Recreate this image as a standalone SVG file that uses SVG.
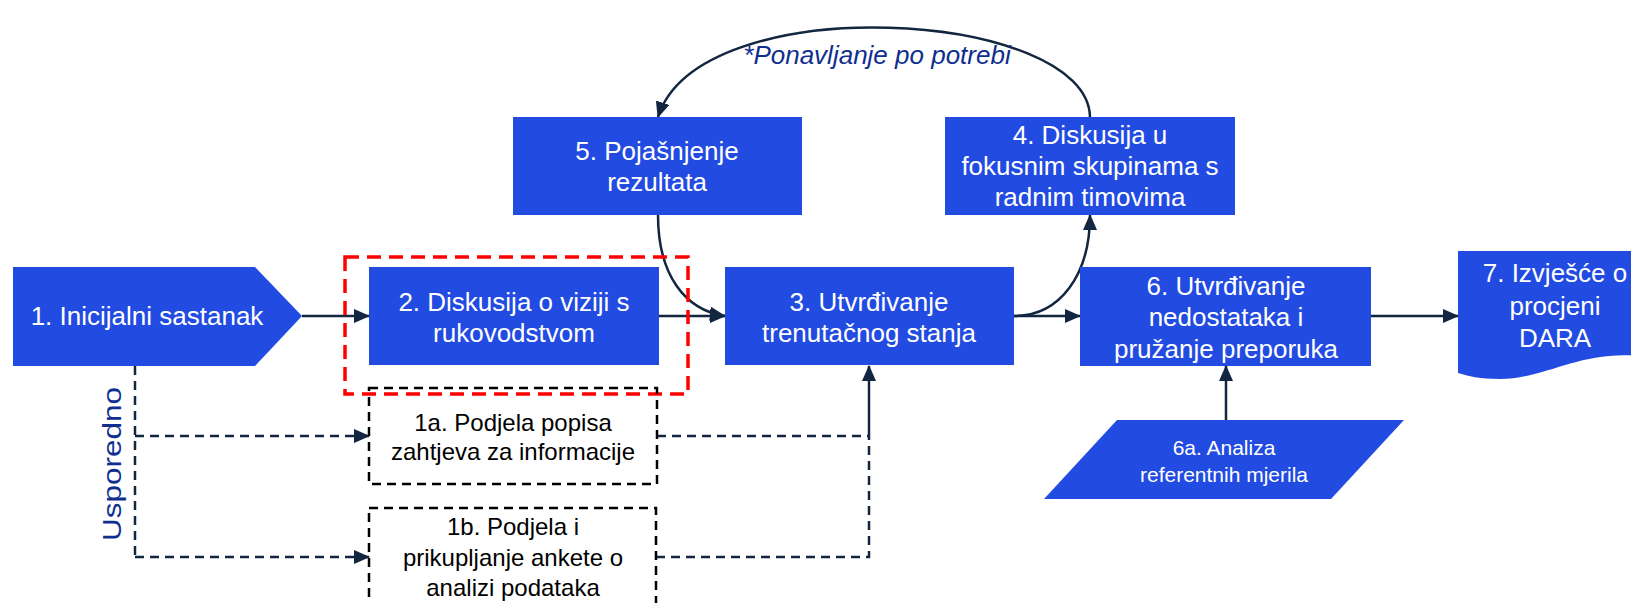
<svg xmlns="http://www.w3.org/2000/svg" width="1631" height="603" viewBox="0 0 1631 603">
<defs>
<marker id="ah" markerUnits="userSpaceOnUse" markerWidth="16" markerHeight="14" viewBox="0 0 16 14" refX="15" refY="7" orient="auto">
<path d="M0,0 L16,7 L0,14 Z" fill="#12263f"/>
</marker>
<style>
.box{fill:#224be2;}
.t{font-family:"Liberation Sans",Arial,sans-serif;font-size:26px;fill:#ffffff;text-anchor:middle;}
.tb{font-family:"Liberation Sans",Arial,sans-serif;font-size:24px;fill:#000000;text-anchor:middle;}
.t6a{font-family:"Liberation Sans",Arial,sans-serif;font-size:21px;fill:#ffffff;text-anchor:middle;}
.lbl{font-family:"Liberation Sans",Arial,sans-serif;font-size:26px;fill:#0f2f8f;}
.c{fill:none;stroke:#12263f;stroke-width:2.5;}
.d{fill:none;stroke:#12263f;stroke-width:2.5;stroke-dasharray:9 6;}
.db{fill:none;stroke:#000000;stroke-width:2.5;stroke-dasharray:9 6;}
</style>
</defs>

<g id="connectors">
<line class="c" x1="302" y1="316" x2="369" y2="316" marker-end="url(#ah)"/>
<line class="c" x1="659" y1="316" x2="725" y2="316" marker-end="url(#ah)"/>
<line class="c" x1="1014" y1="316" x2="1080" y2="316" marker-end="url(#ah)"/>
<line class="c" x1="1371" y1="316" x2="1458" y2="316" marker-end="url(#ah)"/>
<line class="c" x1="1226" y1="420" x2="1226" y2="366" marker-end="url(#ah)"/>
<path class="c" d="M658,215 C658,275 685,310 725,316" marker-end="url(#ah)"/>
<path class="c" d="M1014,316 C1060,316 1090,275 1090,215" marker-end="url(#ah)"/>
<path class="c" d="M1090,117 C1088,10 700,-14 658,117" marker-end="url(#ah)"/>
<path class="d" d="M135,366 V557"/>
<path class="d" d="M135,436 H369" marker-end="url(#ah)"/>
<path class="d" d="M135,557 H369" marker-end="url(#ah)"/>
<path class="d" d="M657,436 H869"/>
<path class="d" d="M656,557 H869 V436"/>
<path class="c" d="M869,436 V366" marker-end="url(#ah)"/>
<text class="lbl" x="877" y="64" text-anchor="middle" font-style="italic">*Ponavljanje po potrebi</text>
<text class="lbl" x="0" y="0" text-anchor="middle" font-size="31" textLength="154" lengthAdjust="spacingAndGlyphs" transform="translate(121,464) rotate(-90)">Usporedno</text>
</g>

<g id="highlight">
<rect x="345" y="257" width="343" height="137" fill="none" stroke="#ff0000" stroke-width="3.5" stroke-dasharray="14 8"/>
</g>

<g id="node1">
<path class="box" d="M13,267 H255 L302,316 L255,366 H13 Z"/>
<text class="t" x="147" y="325">1. Inicijalni sastanak</text>
</g>

<g id="node2">
<rect class="box" x="369" y="267" width="290" height="98"/>
<text class="t" x="514" y="311">2. Diskusija o viziji s</text>
<text class="t" x="514" y="342">rukovodstvom</text>
</g>

<g id="node3">
<rect class="box" x="725" y="267" width="289" height="98"/>
<text class="t" x="869" y="311">3. Utvrđivanje</text>
<text class="t" x="869" y="342">trenutačnog stanja</text>
</g>

<g id="node4">
<rect class="box" x="945" y="117" width="290" height="98"/>
<text class="t" x="1090" y="144">4. Diskusija u</text>
<text class="t" x="1090" y="175">fokusnim skupinama s</text>
<text class="t" x="1090" y="206">radnim timovima</text>
</g>

<g id="node5">
<rect class="box" x="513" y="117" width="289" height="98"/>
<text class="t" x="657" y="160">5. Pojašnjenje</text>
<text class="t" x="657" y="191">rezultata</text>
</g>

<g id="node6">
<rect class="box" x="1080" y="267" width="291" height="99"/>
<text class="t" x="1226" y="295">6. Utvrđivanje</text>
<text class="t" x="1226" y="326">nedostataka i</text>
<text class="t" x="1226" y="358">pružanje preporuka</text>
</g>

<g id="node7">
<path class="box" d="M1458,251 H1640 V356 C1580,350 1545,379 1500,379 C1480,379 1468,376 1458,373 Z"/>
<text class="t" x="1555" y="282">7. Izvješće o</text>
<text class="t" x="1555" y="315">procjeni</text>
<text class="t" x="1555" y="347">DARA</text>
</g>

<g id="node6a">
<path class="box" d="M1117,420 H1404 L1331,499 H1044 Z"/>
<text class="t6a" x="1224" y="455">6a. Analiza</text>
<text class="t6a" x="1224" y="482">referentnih mjerila</text>
</g>

<g id="node1a">
<rect class="db" x="369" y="388" width="288" height="96"/>
<text class="tb" x="513" y="431">1a. Podjela popisa</text>
<text class="tb" x="513" y="460">zahtjeva za informacije</text>
</g>

<g id="node1b">
<rect class="db" x="369" y="508" width="287" height="110"/>
<text class="tb" x="513" y="535">1b. Podjela i</text>
<text class="tb" x="513" y="566">prikupljanje ankete o</text>
<text class="tb" x="513" y="596">analizi podataka</text>
</g>
</svg>
